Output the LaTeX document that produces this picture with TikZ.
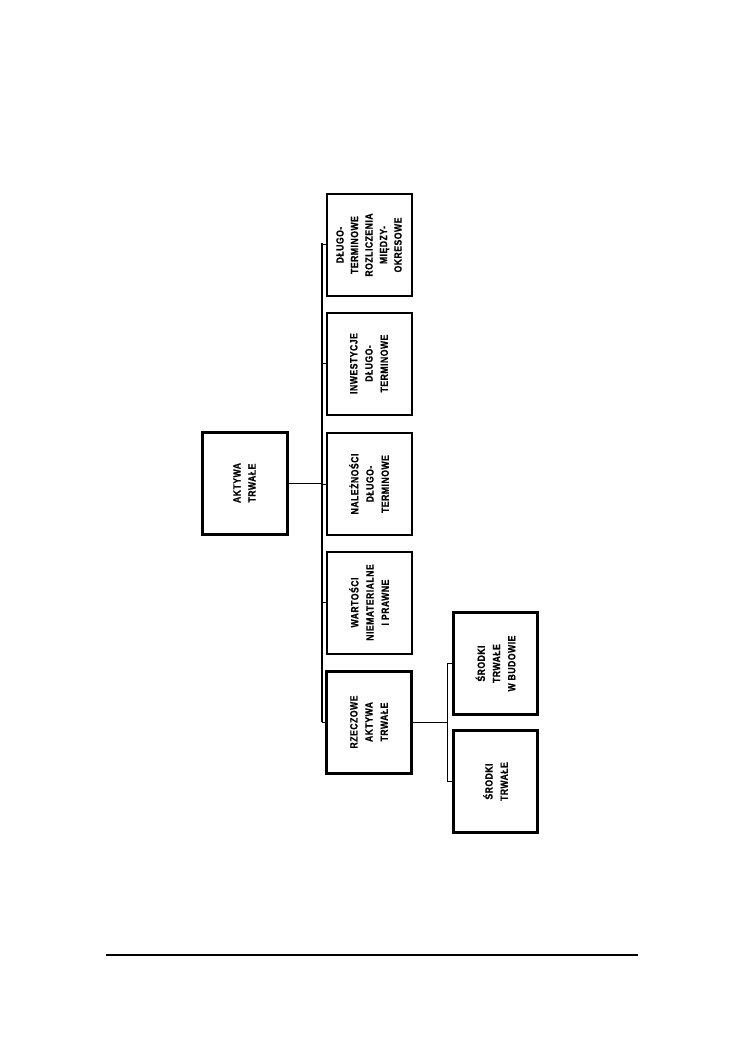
\documentclass[tikz,border=0pt]{standalone}
\usepackage{fontspec}
\newfontfamily\lbl{Liberation Sans}[FakeStretch=0.82,LetterSpace=5,BoldFeatures={FakeBold=0.6}]
\begin{document}
\begin{tikzpicture}[x=1pt,y=-1pt,
  box/.style={draw, rotate=90, inner sep=0pt, align=center,
    minimum width=102pt, minimum height=85pt, line width=2pt,
    font=\lbl\bfseries\fontsize{10.5}{15.2}\selectfont},
  thickbox/.style={box, line width=3pt},
  bus/.style={line width=2pt},
  conn/.style={line width=1pt}]
\useasboundingbox (0,0) rectangle (749,1064);
% main node
\node[thickbox] (akt) at (244.5,483) {AKTYWA\\TRWAŁE};
% column
\node[box, font=\lbl\bfseries\fontsize{10.5}{14.5}\selectfont] (dl) at (369,245) {DŁUGO-\\TERMINOWE\\ROZLICZENIA\\MIĘDZY-\\OKRESOWE};
\node[box] (inw) at (369,363.5) {INWESTYCJE\\DŁUGO-\\TERMINOWE};
\node[box] (nal) at (369,484) {NALEŻNOŚCI\\DŁUGO-\\TERMINOWE};
\node[box] (war) at (369,602.5) {WARTOŚCI\\NIEMATERIALNE\\I PRAWNE};
\node[thickbox] (rze) at (369,722) {RZECZOWE\\AKTYWA\\TRWAŁE};
% sub nodes
\node[thickbox, minimum height=84pt] (bud) at (495.5,663.5) {ŚRODKI\\TRWAŁE\\W BUDOWIE};
\node[thickbox, minimum height=84pt] (sro) at (495.5,781.5) {ŚRODKI\\TRWAŁE};
% bus
\coordinate (busT) at (322,243);
\coordinate (busB) at (322,722);
\draw[bus] (busT) -- (busB);
\foreach \n in {dl,inw,nal,war,rze}{
  \draw[conn] (\n.north) -- (\n.north -| busT);
}
\draw[conn] (akt.south) -- (akt.south -| busT);
% sub bus
\coordinate (sbT) at (447,663.5);
\coordinate (sbB) at (447,781.5);
\draw[conn] (rze.south) -- (rze.south -| sbT);
\draw[conn] (sbT) -- (sbB);
\draw[conn] (bud.north) -- (sbT);
\draw[conn] (sro.north) -- (sbB);
% footer rule
\coordinate (fl) at (106,955);
\coordinate (fr) at (638,955);
\draw[line width=1.5pt] (fl) -- (fr);
\end{tikzpicture}
\end{document}
